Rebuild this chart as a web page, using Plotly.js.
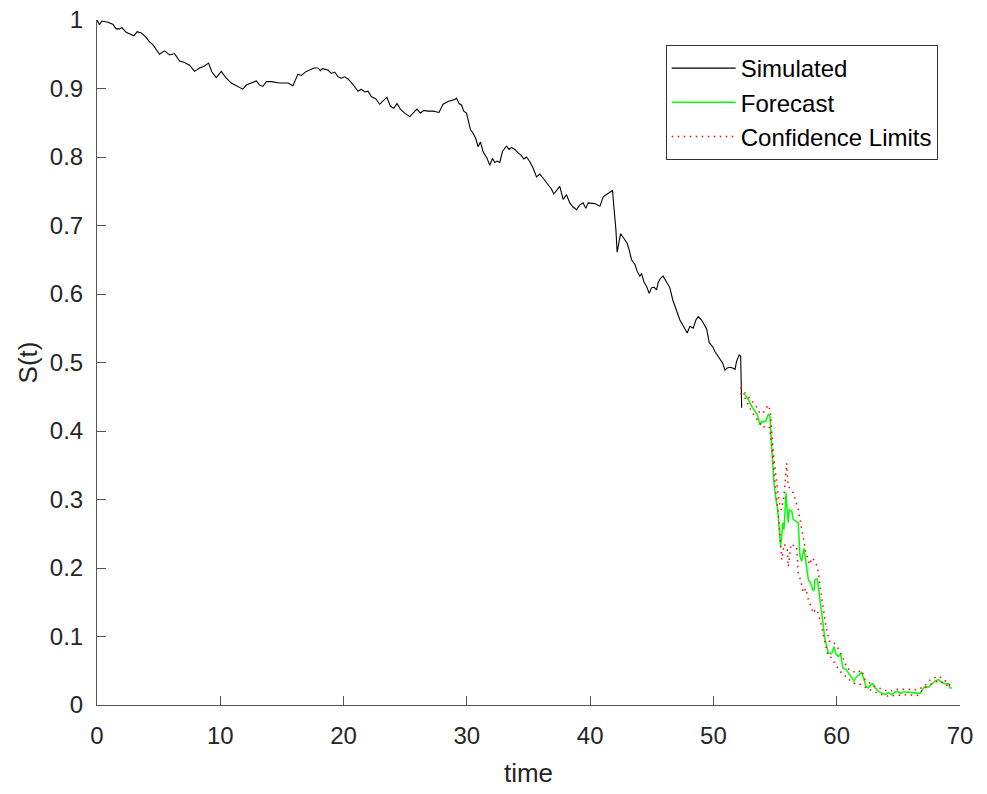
<!DOCTYPE html>
<html>
<head>
<meta charset="utf-8">
<script src="https://cdn.plot.ly/plotly-3.0.1.min.js"></script>
<style>html,body{margin:0;padding:0;background:#fff;}#chart{width:987px;height:794px;}</style>
</head>
<body>
<div id="chart"></div>
<script>
// Simulated path
const simT = [0.00,0.20,0.39,0.88,1.28,1.56,1.83,2.01,2.37,2.78,2.99,3.26,3.59,3.91,4.26,4.53,5.07,5.48,5.89,6.29,6.70,7.10,7.51,7.91,8.32,8.73,9.05,9.32,9.68,10.08,10.49,10.89,11.43,11.83,12.11,12.52,12.92,13.19,13.46,13.73,14.14,14.81,15.49,15.89,16.30,16.57,16.98,17.25,17.60,17.92,18.12,18.28,18.73,19.01,19.28,19.55,19.82,20.09,20.36,20.76,21.17,21.44,21.71,21.98,22.26,22.61,22.93,23.20,23.52,23.80,24.07,24.33,24.61,24.96,25.37,25.63,25.96,26.23,26.50,26.85,27.26,27.74,28.07,28.47,28.75,29.02,29.16,29.37,29.56,29.75,29.97,30.10,30.29,30.50,30.72,30.91,31.10,31.31,31.48,31.64,31.86,32.08,32.26,32.45,32.67,32.89,33.21,33.43,33.62,33.89,34.16,34.43,34.62,34.84,35.11,35.37,35.65,35.92,36.19,36.40,36.59,36.87,37.05,37.32,37.54,37.81,38.08,38.35,38.62,38.90,39.16,39.43,39.65,39.84,40.11,40.38,40.79,41.06,41.38,41.60,41.82,41.92,42.09,42.19,42.35,42.47,42.74,43.00,43.17,43.36,43.63,43.82,44.03,44.17,44.36,44.58,44.79,44.98,45.17,45.39,45.52,45.71,45.92,46.20,46.47,46.69,46.87,47.06,47.28,47.50,47.69,47.87,48.09,48.36,48.58,48.77,49.04,49.23,49.45,49.66,49.94,50.12,50.31,50.53,50.75,50.93,51.12,51.34,51.56,51.75,51.88,52.09,52.21,52.29];
const simS = [1.000,0.993,0.9985,0.9966,0.9937,0.987,0.987,0.989,0.982,0.979,0.977,0.983,0.981,0.976,0.968,0.964,0.950,0.955,0.949,0.951,0.940,0.938,0.934,0.925,0.930,0.933,0.937,0.924,0.916,0.925,0.915,0.908,0.903,0.899,0.905,0.908,0.911,0.905,0.903,0.910,0.910,0.908,0.908,0.904,0.921,0.919,0.925,0.927,0.930,0.930,0.926,0.929,0.927,0.922,0.924,0.917,0.915,0.917,0.914,0.906,0.896,0.899,0.895,0.896,0.888,0.885,0.877,0.882,0.887,0.874,0.871,0.878,0.870,0.864,0.859,0.864,0.870,0.864,0.868,0.867,0.867,0.865,0.877,0.881,0.882,0.884,0.886,0.878,0.876,0.867,0.864,0.854,0.840,0.835,0.827,0.815,0.822,0.808,0.803,0.798,0.788,0.798,0.792,0.794,0.792,0.808,0.816,0.811,0.814,0.811,0.806,0.802,0.797,0.800,0.793,0.784,0.771,0.775,0.769,0.764,0.761,0.753,0.746,0.752,0.757,0.738,0.745,0.733,0.727,0.723,0.730,0.733,0.725,0.733,0.733,0.732,0.728,0.742,0.746,0.748,0.751,0.728,0.694,0.661,0.677,0.688,0.681,0.674,0.664,0.650,0.643,0.633,0.626,0.630,0.618,0.611,0.601,0.609,0.610,0.606,0.617,0.623,0.626,0.618,0.609,0.592,0.582,0.574,0.562,0.555,0.549,0.543,0.553,0.550,0.562,0.567,0.562,0.555,0.549,0.529,0.523,0.516,0.511,0.504,0.499,0.489,0.492,0.493,0.492,0.490,0.502,0.511,0.509,0.434];

// Forecast
const fcT = [52.37,52.56,52.82,53.10,53.37,53.56,53.77,53.91,54.10,54.26,54.45,54.59,54.64,54.72,54.81,54.91,55.07,55.18,55.26,55.34,55.40,55.45,55.54,55.62,55.72,55.80,55.89,55.94,56.07,56.15,56.35,56.48,56.67,56.88,57.02,57.16,57.35,57.51,57.70,57.89,58.05,58.16,58.24,58.43,58.59,58.78,58.91,59.05,59.19,59.32,59.59,59.78,59.94,60.13,60.32,60.49,60.75,60.94,61.22,61.40,61.62,61.83,62.03,62.16,62.38,62.56,62.76,62.92,63.11,63.38,63.65,63.92,64.19,64.46,64.73,64.92,65.14,65.41,65.68,66.09,66.50,66.76,66.98,67.17,67.44,67.71,67.98,68.25,68.52,68.79,69.06,69.20,69.33];
const fcS = [0.455,0.453,0.446,0.436,0.429,0.424,0.409,0.414,0.413,0.415,0.424,0.421,0.402,0.382,0.353,0.324,0.300,0.290,0.275,0.261,0.246,0.232,0.246,0.266,0.256,0.290,0.310,0.295,0.266,0.285,0.283,0.271,0.268,0.266,0.217,0.210,0.229,0.207,0.183,0.178,0.168,0.168,0.183,0.184,0.159,0.136,0.117,0.096,0.086,0.076,0.075,0.085,0.074,0.071,0.075,0.054,0.052,0.047,0.040,0.035,0.042,0.044,0.048,0.040,0.027,0.025,0.030,0.031,0.025,0.020,0.017,0.015,0.018,0.015,0.019,0.020,0.017,0.019,0.019,0.018,0.018,0.017,0.023,0.027,0.026,0.031,0.035,0.037,0.033,0.031,0.031,0.025,0.025];

// Confidence limits
const upT = [52.2,52.6,53.0,53.4,53.8,54.1,54.45,54.6,54.75,54.9,55.1,55.3,55.5,55.7,55.94,56.05,56.25,56.48,56.88,57.24,57.51,57.8,58.0,58.24,58.45,58.65,58.85,59.13,59.4,59.7,60.1,60.5,60.81,61.2,61.62,62.0,62.3,63.1,64.2,64.9,65.8,66.5,67.1,67.6,68.1,68.3,68.6,69.06,69.33];
const upS = [0.463,0.455,0.447,0.438,0.425,0.428,0.438,0.430,0.395,0.360,0.330,0.300,0.285,0.300,0.353,0.320,0.315,0.310,0.285,0.251,0.222,0.205,0.215,0.210,0.200,0.173,0.150,0.115,0.093,0.093,0.083,0.070,0.054,0.050,0.047,0.051,0.037,0.027,0.020,0.023,0.023,0.022,0.027,0.037,0.041,0.042,0.038,0.032,0.025];
const loT = [52.2,52.6,53.0,53.4,53.7,54.0,54.3,54.55,54.72,54.91,55.07,55.26,55.40,55.48,55.54,55.75,56.0,56.07,56.3,56.55,56.75,56.88,57.1,57.29,57.5,57.70,57.9,58.10,58.3,58.5,58.78,59.05,59.32,59.6,59.9,60.3,60.5,60.75,61.3,62.0,62.4,63.2,64.0,64.9,65.8,66.6,67.0,67.6,68.2,68.8,69.2];
const loS = [0.455,0.447,0.432,0.420,0.414,0.405,0.408,0.405,0.378,0.339,0.310,0.280,0.251,0.232,0.212,0.235,0.227,0.202,0.235,0.232,0.232,0.193,0.180,0.164,0.170,0.154,0.145,0.134,0.140,0.134,0.115,0.090,0.071,0.069,0.059,0.050,0.044,0.042,0.032,0.030,0.025,0.018,0.013,0.014,0.015,0.014,0.023,0.030,0.035,0.032,0.023];

const xTicks = [0,10,20,30,40,50,60,70];
const yTicks = [0,0.1,0.2,0.3,0.4,0.5,0.6,0.7,0.8,0.9,1];
const yTickText = ['0','0.1','0.2','0.3','0.4','0.5','0.6','0.7','0.8','0.9','1'];

const FONT = '"Liberation Sans", Arial, Helvetica, sans-serif';
const DOTS = '1.5px,4.5px';

const traces = [
  {x: simT, y: simS, type: 'scatter', mode: 'lines', name: 'Simulated',
   line: {color: '#000000', width: 1.1}, legendgroup: 'a'},
  {x: fcT, y: fcS, type: 'scatter', mode: 'lines', name: 'Forecast',
   line: {color: '#00ff00', width: 1.5}, legendgroup: 'b'},
  {x: upT, y: upS, type: 'scatter', mode: 'lines', name: 'Confidence Limits',
   line: {color: '#ff0000', width: 1.5, dash: DOTS}, legendgroup: 'c'},
  {x: loT, y: loS, type: 'scatter', mode: 'lines', name: 'Confidence Limits',
   line: {color: '#ff0000', width: 1.5, dash: DOTS}, legendgroup: 'c', showlegend: false}
];

const layout = {
  width: 987, height: 794,
  margin: {l: 97, r: 27, t: 20, b: 89, pad: 0},
  paper_bgcolor: '#ffffff', plot_bgcolor: '#ffffff',
  font: {family: FONT, size: 24, color: '#262626'},
  showlegend: true,
  xaxis: {
    range: [0, 70], tickvals: xTicks, ticktext: xTicks.map(String),
    showgrid: false, zeroline: false, showline: true, linecolor: '#555555', linewidth: 1,
    ticks: 'inside', ticklen: 9, tickwidth: 1, tickcolor: '#555555',
    ticklabelstandoff: 9,
    tickfont: {family: FONT, size: 24, color: '#262626'},
    title: {text: 'time', font: {family: FONT, size: 26, color: '#262626'}, standoff: 16},
    mirror: false
  },
  yaxis: {
    range: [0, 1], tickvals: yTicks, ticktext: yTickText,
    showgrid: false, zeroline: false, showline: true, linecolor: '#555555', linewidth: 1,
    ticks: 'inside', ticklen: 9, tickwidth: 1, tickcolor: '#555555',
    ticklabelstandoff: 8,
    tickfont: {family: FONT, size: 24, color: '#262626'},
    title: {text: 'S(t)', font: {family: FONT, size: 26, color: '#262626'}, standoff: 4},
    mirror: false
  },
  legend: {
    x: 0.659, y: 0.9635, xanchor: 'left', yanchor: 'top',
    bgcolor: '#ffffff', bordercolor: '#333333', borderwidth: 1,
    font: {family: FONT, size: 24, color: '#000000'},
    itemwidth: 64,
    tracegroupgap: 0, traceorder: 'normal'
  }
};

Plotly.newPlot('chart', traces, layout, {displayModeBar: false, staticPlot: true});
</script>
</body>
</html>
